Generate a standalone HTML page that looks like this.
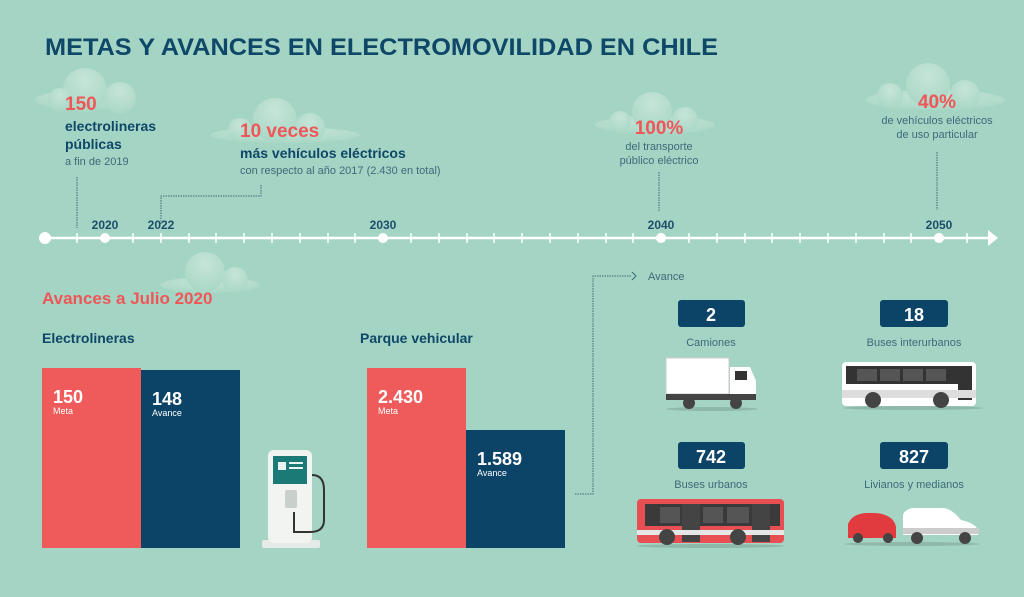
<!DOCTYPE html>
<html><head><meta charset="utf-8"><style>
body{margin:0;width:1024px;height:592px;overflow:hidden;background:#a4d4c3;font-family:"Liberation Sans",sans-serif}
</style></head><body>
<svg width="1024" height="592" viewBox="0 0 1024 592" xmlns="http://www.w3.org/2000/svg" font-family="Liberation Sans, sans-serif">
<defs><radialGradient id="cg" cx="50%" cy="30%" r="70%"><stop offset="0" stop-color="#c6e5d9"/><stop offset="1" stop-color="#a9d7c6"/></radialGradient></defs>
<rect width="1024" height="592" fill="#a4d4c3"/>
<!-- clouds -->
<g fill="url(#cg)">
<ellipse cx="85" cy="100" rx="50" ry="10"/><circle cx="85" cy="90" r="22"/><circle cx="120" cy="98" r="16"/><circle cx="60" cy="100" r="12"/>
<ellipse cx="285" cy="135" rx="75" ry="8"/><circle cx="275" cy="120" r="22"/><circle cx="310" cy="128" r="15"/><circle cx="240" cy="130" r="12"/>
<ellipse cx="655" cy="125" rx="60" ry="9"/><circle cx="652" cy="112" r="20"/><circle cx="685" cy="120" r="13"/><circle cx="620" cy="122" r="11"/>
<ellipse cx="935" cy="100" rx="70" ry="10"/><circle cx="928" cy="85" r="22"/><circle cx="965" cy="95" r="15"/><circle cx="890" cy="96" r="13"/>
<ellipse cx="210" cy="285" rx="50" ry="8"/><circle cx="205" cy="272" r="20"/><circle cx="235" cy="280" r="13"/>
</g>
<text x="45" y="55" font-size="24" font-weight="bold" fill="#0e4768" textLength="673" lengthAdjust="spacingAndGlyphs">METAS Y AVANCES EN ELECTROMOVILIDAD EN CHILE</text>
<!-- top labels -->
<text x="65" y="110" font-size="19" font-weight="bold" fill="#ef5658">150</text>
<text x="65" y="131" font-size="14" font-weight="bold" fill="#0e4768">electrolineras</text>
<text x="65" y="149" font-size="14" font-weight="bold" fill="#0e4768">públicas</text>
<text x="65" y="165" font-size="11" fill="#3e6a7a">a fin de 2019</text>
<text x="240" y="137" font-size="19" font-weight="bold" fill="#ef5658">10 veces</text>
<text x="240" y="158" font-size="14" font-weight="bold" fill="#0e4768">más vehículos eléctricos</text>
<text x="240" y="174" font-size="11" fill="#3e6a7a">con respecto al año 2017 (2.430 en total)</text>
<text x="659" y="134" font-size="19" font-weight="bold" fill="#ef5658" text-anchor="middle">100%</text>
<text x="659" y="150" font-size="11" fill="#3e6a7a" text-anchor="middle">del transporte</text>
<text x="659" y="164" font-size="11" fill="#3e6a7a" text-anchor="middle">público eléctrico</text>
<text x="937" y="108" font-size="19" font-weight="bold" fill="#ef5658" text-anchor="middle">40%</text>
<text x="937" y="124" font-size="11" fill="#3e6a7a" text-anchor="middle">de vehículos eléctricos</text>
<text x="937" y="138" font-size="11" fill="#3e6a7a" text-anchor="middle">de uso particular</text>
<g stroke="#3e6a7a" stroke-width="1" stroke-dasharray="1.5,1" fill="none">
<path d="M77 177V228"/><path d="M161 224V196H261V184"/><path d="M659 172V212"/><path d="M937 152V210"/>
<path d="M575 494H593V276H632"/>
</g>
<path d="M632 272l4 4-4 4" stroke="#3e6a7a" fill="none"/>
<!-- timeline -->
<line x1="45" y1="238" x2="990" y2="238" stroke="#fff" stroke-width="2.5"/>
<path d="M988 230l10 8-10 8z" fill="#fff"/>
<g stroke="#fff" stroke-width="1.5">
<path d="M77 233v10M133 233v10M161 233v10M189 233v10M216 233v10M244 233v10M272 233v10M300 233v10M328 233v10M355 233v10M411 233v10M439 233v10M467 233v10M494 233v10M522 233v10M550 233v10M578 233v10M606 233v10M633 233v10M689 233v10M717 233v10M745 233v10M772 233v10M800 233v10M828 233v10M856 233v10M884 233v10M911 233v10M967 233v10"/>
</g>
<g fill="#fff"><circle cx="45" cy="238" r="6"/><circle cx="105" cy="238" r="5"/><circle cx="383" cy="238" r="5"/><circle cx="661" cy="238" r="5"/><circle cx="939" cy="238" r="5"/></g>
<g font-size="12" font-weight="bold" fill="#1d4e6a" text-anchor="middle">
<text x="105" y="229">2020</text><text x="161" y="229">2022</text><text x="383" y="229">2030</text><text x="661" y="229">2040</text><text x="939" y="229">2050</text></g>
<!-- avances -->
<text x="42" y="304" font-size="17" font-weight="bold" fill="#ef5658">Avances a Julio 2020</text>
<text x="42" y="343" font-size="14" font-weight="bold" fill="#0e4768">Electrolineras</text>
<text x="360" y="343" font-size="14" font-weight="bold" fill="#0e4768">Parque vehicular</text>
<rect x="42" y="368" width="99" height="180" fill="#ef5a5b"/>
<rect x="141" y="370" width="99" height="178" fill="#0c4468"/>
<rect x="367" y="368" width="99" height="180" fill="#ef5a5b"/>
<rect x="466" y="430" width="99" height="118" fill="#0c4468"/>
<g fill="#fff">
<text x="53" y="403" font-size="18" font-weight="bold">150</text><text x="53" y="414" font-size="9">Meta</text>
<text x="152" y="405" font-size="18" font-weight="bold">148</text><text x="152" y="416" font-size="9">Avance</text>
<text x="378" y="403" font-size="18" font-weight="bold">2.430</text><text x="378" y="414" font-size="9">Meta</text>
<text x="477" y="465" font-size="18" font-weight="bold">1.589</text><text x="477" y="476" font-size="9">Avance</text>
</g>
<!-- charger -->
<rect x="262" y="540" width="58" height="8" rx="2" fill="#e6ebe8"/>
<rect x="268" y="450" width="44" height="93" rx="6" fill="#f2f4f2"/>
<rect x="273" y="456" width="34" height="28" fill="#1b7a76"/>
<rect x="278" y="462" width="8" height="8" fill="#e9f3f1"/><rect x="289" y="462" width="14" height="2" fill="#e9f3f1"/><rect x="289" y="467" width="14" height="2" fill="#e9f3f1"/>
<rect x="285" y="490" width="12" height="18" rx="2" fill="#c9d0cc"/>
<path d="M312 475q12 0 12 15v30q0 12-14 12h-16v-20" stroke="#333" stroke-width="2" fill="none"/>
<!-- vehicle section -->
<text x="648" y="280" font-size="11" fill="#3e6a7a">Avance</text>
<g fill="#0c4468"><rect x="678" y="300" width="67" height="27" rx="3"/><rect x="880" y="300" width="68" height="27" rx="3"/><rect x="678" y="442" width="67" height="27" rx="3"/><rect x="880" y="442" width="68" height="27" rx="3"/></g>
<g fill="#fff" font-size="18" font-weight="bold" text-anchor="middle">
<text x="711" y="321">2</text><text x="914" y="321">18</text><text x="711" y="463">742</text><text x="914" y="463">827</text></g>
<g fill="#3e6a7a" font-size="11" text-anchor="middle">
<text x="711" y="346">Camiones</text><text x="914" y="346">Buses interurbanos</text><text x="711" y="488">Buses urbanos</text><text x="914" y="488">Livianos y medianos</text></g>
<!-- truck -->
<ellipse cx="712" cy="409" rx="46" ry="2" fill="#8fb8a8"/>
<rect x="666" y="358" width="63" height="36" fill="#fff" stroke="#ccc"/>
<path d="M730 367h20l6 14v18h-26z" fill="#fff"/><rect x="735" y="371" width="12" height="9" fill="#333"/>
<rect x="666" y="394" width="90" height="6" fill="#444"/>
<circle cx="689" cy="403" r="6" fill="#444"/><circle cx="736" cy="403" r="6" fill="#444"/>
<!-- interurban bus -->
<ellipse cx="913" cy="408" rx="70" ry="2" fill="#8fb8a8"/>
<rect x="842" y="362" width="134" height="44" rx="4" fill="#fff"/>
<rect x="846" y="366" width="126" height="18" fill="#333"/><rect x="958" y="366" width="14" height="34" fill="#333"/>
<g fill="#555"><rect x="857" y="369" width="20" height="12"/><rect x="880" y="369" width="20" height="12"/><rect x="903" y="369" width="20" height="12"/><rect x="926" y="369" width="20" height="12"/></g>
<rect x="842" y="390" width="134" height="8" fill="#ddd"/>
<circle cx="873" cy="400" r="8" fill="#444"/><circle cx="941" cy="400" r="8" fill="#444"/>
<!-- urban bus -->
<ellipse cx="710" cy="546" rx="74" ry="2" fill="#8fb8a8"/>
<rect x="637" y="499" width="147" height="44" rx="4" fill="#e84f52"/>
<rect x="645" y="504" width="135" height="22" fill="#3a3a3a"/>
<g fill="#555"><rect x="660" y="507" width="20" height="16"/><rect x="703" y="507" width="20" height="16"/><rect x="727" y="507" width="22" height="16"/></g>
<rect x="682" y="504" width="18" height="38" fill="#444"/><rect x="752" y="504" width="18" height="38" fill="#444"/>
<rect x="637" y="530" width="147" height="5" fill="#e6e6e6"/>
<circle cx="667" cy="537" r="8" fill="#444"/><circle cx="738" cy="537" r="8" fill="#444"/>
<!-- cars -->
<ellipse cx="912" cy="544" rx="68" ry="2" fill="#8fb8a8"/>
<path d="M848 538v-14q4-10 18-11h10q18 2 20 14v11z" fill="#e23b3f"/><circle cx="858" cy="538" r="5" fill="#444"/><circle cx="888" cy="538" r="5" fill="#444"/>
<path d="M903 535v-20q2-6 10-7h30q8 0 18 12q14 3 17 10v5z" fill="#fff"/><rect x="903" y="528" width="76" height="6" fill="#ccc"/>
<circle cx="917" cy="538" r="6" fill="#444"/><circle cx="965" cy="538" r="6" fill="#444"/>
</svg>
</body></html>
